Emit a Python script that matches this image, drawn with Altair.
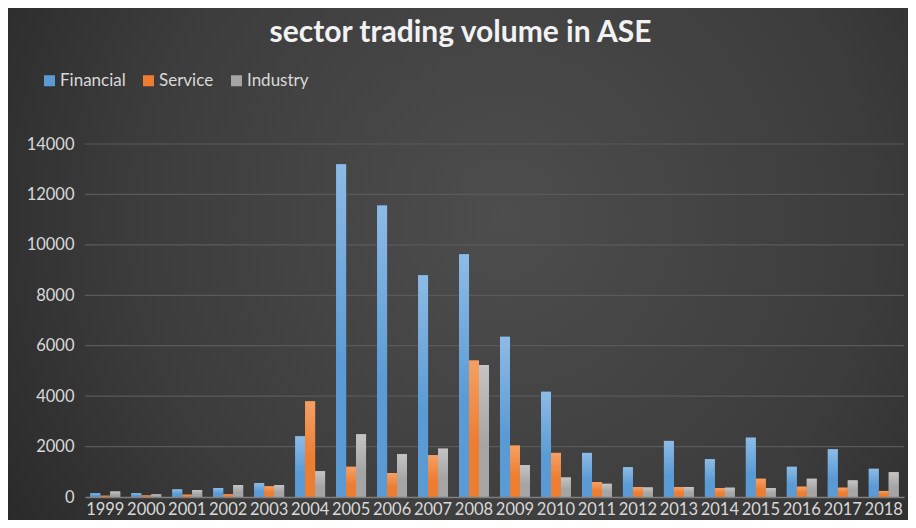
import altair as alt
import pandas as pd

years = ["1999", "2000", "2001", "2002", "2003", "2004", "2005", "2006", "2007", "2008",
         "2009", "2010", "2011", "2012", "2013", "2014", "2015", "2016", "2017", "2018"]
sectors = ["Financial", "Service", "Industry"]
financial = [145, 145, 303, 356, 553, 2410, 13200, 11560, 8790, 9630,
             6355, 4170, 1750, 1185, 2225, 1500, 2355, 1200, 1895, 1120]
service = [50, 60, 92, 105, 425, 3800, 1200, 950, 1660, 5410,
           2040, 1750, 590, 395, 395, 355, 725, 410, 370, 240]
industry = [220, 105, 277, 474, 474, 1025, 2490, 1700, 1920, 5240,
            1265, 775, 525, 380, 395, 370, 355, 725, 660, 985]
colors = ["#5B9BD5", "#ED7D31", "#A5A5A5"]
top_colors = ["#8dbbe6", "#f4a064", "#c4c4c4"]
y_ticks = [0, 2000, 4000, 6000, 8000, 10000, 12000, 14000]
grid_values = [2000, 4000, 6000, 8000, 10000, 12000, 14000]

rows = []
for i, yr in enumerate(years):
    for s, vals in zip(sectors, [financial, service, industry]):
        rows.append({"year": yr, "sector": s, "value": vals[i]})
df = pd.DataFrame(rows)

W, H = 819, 353
PL, PT, PR, PB = 77, 136, 4, 23
FONT = "Lato"

yscale = alt.Scale(domain=[0, 14000], nice=False)
yaxis = alt.Axis(values=y_ticks, domain=False, ticks=False, grid=False,
                 labelPadding=11, zindex=1, format="d")
xenc = alt.X("year:N", sort=years, title=None,
             scale=alt.Scale(paddingInner=0.27, paddingOuter=0.13),
             axis=alt.Axis(labelAngle=0, domain=True, domainColor="#7f7f7f", domainWidth=1.5,
                           ticks=False, grid=False, labelPadding=4, zindex=1))
xoff = alt.XOffset("sector:N", sort=sectors,
                   scale=alt.Scale(domain=sectors, paddingInner=0, paddingOuter=0))

bg = alt.Chart(alt.Data(values=[{"a": 1}])).mark_rect(
    fill={
        "gradient": "radial",
        "x1": 0.55, "y1": 0.45, "r1": 0.0,
        "x2": 0.55, "y2": 0.45, "r2": 0.75,
        "stops": [
            {"offset": 0.0, "color": "#4d4d4d"},
            {"offset": 0.55, "color": "#3c3c3c"},
            {"offset": 1.0, "color": "#222222"},
        ],
    }
).encode(
    x=alt.value(-PL), x2=alt.value(W + PR),
    y=alt.value(-PT), y2=alt.value(H + PB),
)

grid = alt.Chart(pd.DataFrame({"value": grid_values})).mark_rule(
    color="#5a5a5a", strokeWidth=1.2
).encode(
    y=alt.Y("value:Q", title=None, axis=yaxis, scale=yscale)
)

bars = alt.Chart(df).mark_bar().encode(
    x=xenc,
    xOffset=xoff,
    y=alt.Y("value:Q", title=None, scale=yscale, axis=yaxis),
    color=alt.Color("sector:N", sort=sectors,
                    scale=alt.Scale(domain=sectors, range=colors),
                    legend=alt.Legend(title=None, orient="none", legendX=-44, legendY=-72,
                                      direction="horizontal", symbolType="square",
                                      symbolSize=121, symbolStrokeWidth=0, padding=0,
                                      labelOffset=2, columnPadding=14)),
)

shade_layers = []
for s, c_top, c_base in zip(sectors, top_colors, colors):
    shade_layers.append(
        alt.Chart(df).transform_filter(alt.datum.sector == s).mark_bar(
            fill={
                "gradient": "linear",
                "x1": 0, "y1": 0, "x2": 0, "y2": 1,
                "stops": [
                    {"offset": 0.0, "color": c_top},
                    {"offset": 0.6, "color": c_base},
                    {"offset": 1.0, "color": c_base},
                ],
            }
        ).encode(
            x=xenc,
            xOffset=xoff,
            y=alt.Y("value:Q", title=None, scale=yscale, axis=yaxis),
        )
    )

chart = alt.layer(bg, grid, bars, *shade_layers).properties(
    width=W, height=H,
    autosize=alt.AutoSizeParams(type="none"),
    padding={"left": PL, "top": PT, "right": PR, "bottom": PB},
    title=alt.TitleParams("sector trading volume in ASE", anchor="middle", frame="group",
                          dx=-34, offset=-40, fontSize=30, fontWeight="bold",
                          color="#f2f2f2", font=FONT),
).configure(
    background="#2b2b2b",
).configure_view(
    stroke=None,
).configure_axis(
    labelFont=FONT, labelFontSize=16.5, labelColor="#d9d9d9",
).configure_legend(
    labelFont=FONT, labelFontSize=17, labelColor="#d9d9d9",
)

chart.save("out.html", embed_options={"renderer": "svg", "actions": False})
